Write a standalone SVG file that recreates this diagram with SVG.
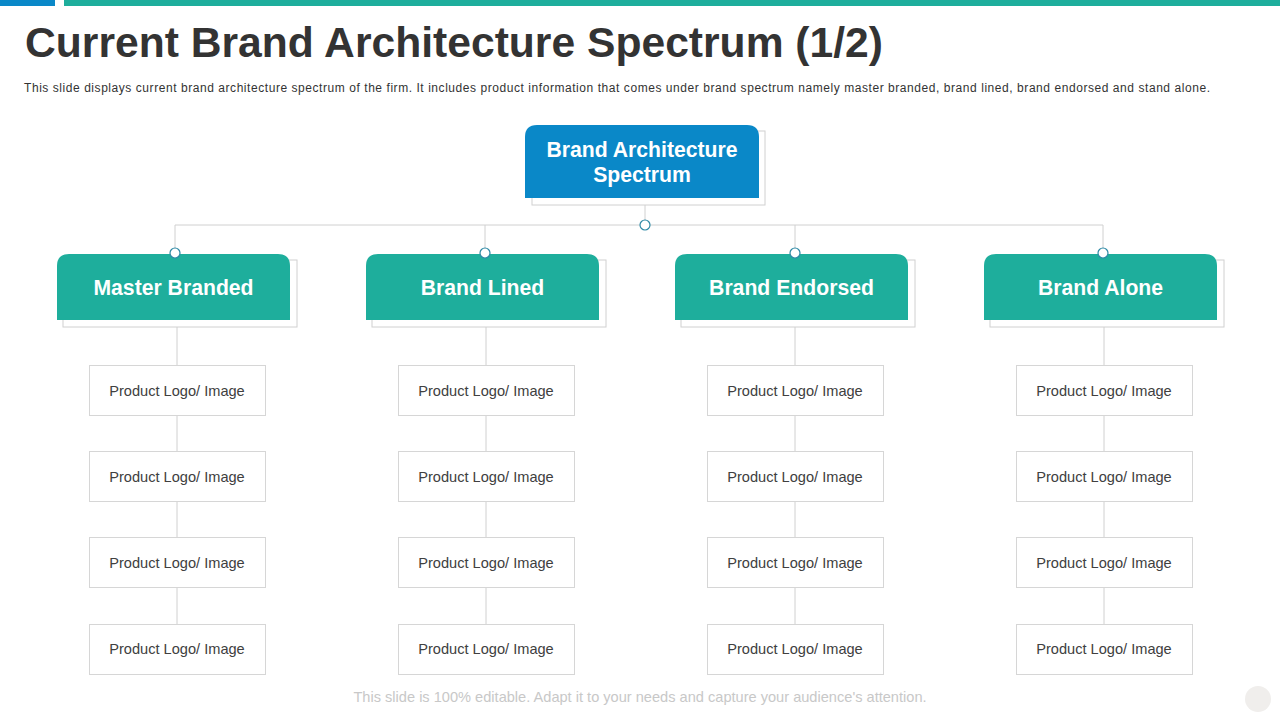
<svg xmlns="http://www.w3.org/2000/svg" width="1280" height="720" viewBox="0 0 1280 720">
<style>
.title{font-family:"Liberation Sans",Arial,sans-serif;font-weight:bold;font-size:42px;fill:#333333}
.sub{font-family:"Liberation Sans",Arial,sans-serif;font-size:12px;fill:#333333}
.foot{font-family:"Liberation Sans",Arial,sans-serif;font-size:14.6px;fill:#c8c8c8}
.head{font-family:"Liberation Sans",Arial,sans-serif;font-weight:bold;font-size:21.2px;fill:#ffffff}
.prod{font-family:"Liberation Sans",Arial,sans-serif;font-size:14.6px;fill:#404040}
.shadow{fill:#ffffff;stroke:#d0d0d0;stroke-width:1}
.pbox{fill:#ffffff;stroke:#d6d6d6;stroke-width:1}
.line{stroke:#d0d0d0;stroke-width:1;fill:none}
.dot{fill:#ffffff;stroke:#2f8aa6;stroke-width:1.2}
.teal{fill:#1eae9c}
</style>
<rect x="0" y="0" width="1280" height="720" fill="#ffffff"/>
<rect x="0" y="0" width="55" height="6" fill="#0a88c8"/>
<rect x="64" y="0" width="1216" height="6" fill="#1eae9c"/>
<text class="title" x="25" y="57" textLength="858" lengthAdjust="spacingAndGlyphs">Current Brand Architecture Spectrum (1/2)</text>
<text class="sub" x="24" y="92" textLength="1186" lengthAdjust="spacing">This slide displays current brand architecture spectrum of the firm. It includes product information that comes under brand spectrum namely master branded, brand lined, brand endorsed and stand alone.</text>

<g id="connectors">
<line class="line" x1="645" y1="205" x2="645" y2="225"/>
<line class="line" x1="175" y1="225" x2="1103" y2="225"/>
<line class="line" x1="175" y1="225" x2="175" y2="253"/>
<line class="line" x1="485" y1="225" x2="485" y2="253"/>
<line class="line" x1="795" y1="225" x2="795" y2="253"/>
<line class="line" x1="1103" y1="225" x2="1103" y2="253"/>
<line class="line" x1="177" y1="327" x2="177" y2="624"/>
<line class="line" x1="486" y1="327" x2="486" y2="624"/>
<line class="line" x1="795" y1="327" x2="795" y2="624"/>
<line class="line" x1="1104" y1="327" x2="1104" y2="624"/>
</g>

<g id="root">
<rect class="shadow" x="532" y="131" width="233" height="74"/>
<path d="M525 198 V137 Q525 125 537 125 H747 Q759 125 759 137 V198 Z" fill="#0a88c8"/>
<text class="head" x="642" y="157" text-anchor="middle">Brand Architecture</text>
<text class="head" x="642" y="182" text-anchor="middle">Spectrum</text>
</g>

<g id="master-branded">
<rect class="shadow" x="63" y="260" width="234" height="67"/>
<path class="teal" d="M57 320 V266 Q57 254 69 254 H278 Q290 254 290 266 V320 Z"/>
<text class="head" x="173.5" y="295" text-anchor="middle">Master Branded</text>
</g>
<g id="brand-lined">
<rect class="shadow" x="372" y="260" width="234" height="67"/>
<path class="teal" d="M366 320 V266 Q366 254 378 254 H587 Q599 254 599 266 V320 Z"/>
<text class="head" x="482.5" y="295" text-anchor="middle">Brand Lined</text>
</g>
<g id="brand-endorsed">
<rect class="shadow" x="681" y="260" width="234" height="67"/>
<path class="teal" d="M675 320 V266 Q675 254 687 254 H896 Q908 254 908 266 V320 Z"/>
<text class="head" x="791.5" y="295" text-anchor="middle">Brand Endorsed</text>
</g>
<g id="brand-alone">
<rect class="shadow" x="990" y="260" width="234" height="67"/>
<path class="teal" d="M984 320 V266 Q984 254 996 254 H1205 Q1217 254 1217 266 V320 Z"/>
<text class="head" x="1100.5" y="295" text-anchor="middle">Brand Alone</text>
</g>

<g id="dots">
<circle class="dot" cx="645" cy="225" r="5"/>
<circle class="dot" cx="175" cy="253" r="5"/>
<circle class="dot" cx="485" cy="253" r="5"/>
<circle class="dot" cx="795" cy="253" r="5"/>
<circle class="dot" cx="1103" cy="253" r="5"/>
</g>

<g id="col1-products">
<rect class="pbox" x="89.5" y="365.5" width="176" height="50"/><text class="prod" x="177" y="396" text-anchor="middle">Product Logo/ Image</text>
<rect class="pbox" x="89.5" y="451.5" width="176" height="50"/><text class="prod" x="177" y="482" text-anchor="middle">Product Logo/ Image</text>
<rect class="pbox" x="89.5" y="537.5" width="176" height="50"/><text class="prod" x="177" y="568" text-anchor="middle">Product Logo/ Image</text>
<rect class="pbox" x="89.5" y="624.5" width="176" height="50"/><text class="prod" x="177" y="654" text-anchor="middle">Product Logo/ Image</text>
</g>
<g id="col2-products">
<rect class="pbox" x="398.5" y="365.5" width="176" height="50"/><text class="prod" x="486" y="396" text-anchor="middle">Product Logo/ Image</text>
<rect class="pbox" x="398.5" y="451.5" width="176" height="50"/><text class="prod" x="486" y="482" text-anchor="middle">Product Logo/ Image</text>
<rect class="pbox" x="398.5" y="537.5" width="176" height="50"/><text class="prod" x="486" y="568" text-anchor="middle">Product Logo/ Image</text>
<rect class="pbox" x="398.5" y="624.5" width="176" height="50"/><text class="prod" x="486" y="654" text-anchor="middle">Product Logo/ Image</text>
</g>
<g id="col3-products">
<rect class="pbox" x="707.5" y="365.5" width="176" height="50"/><text class="prod" x="795" y="396" text-anchor="middle">Product Logo/ Image</text>
<rect class="pbox" x="707.5" y="451.5" width="176" height="50"/><text class="prod" x="795" y="482" text-anchor="middle">Product Logo/ Image</text>
<rect class="pbox" x="707.5" y="537.5" width="176" height="50"/><text class="prod" x="795" y="568" text-anchor="middle">Product Logo/ Image</text>
<rect class="pbox" x="707.5" y="624.5" width="176" height="50"/><text class="prod" x="795" y="654" text-anchor="middle">Product Logo/ Image</text>
</g>
<g id="col4-products">
<rect class="pbox" x="1016.5" y="365.5" width="176" height="50"/><text class="prod" x="1104" y="396" text-anchor="middle">Product Logo/ Image</text>
<rect class="pbox" x="1016.5" y="451.5" width="176" height="50"/><text class="prod" x="1104" y="482" text-anchor="middle">Product Logo/ Image</text>
<rect class="pbox" x="1016.5" y="537.5" width="176" height="50"/><text class="prod" x="1104" y="568" text-anchor="middle">Product Logo/ Image</text>
<rect class="pbox" x="1016.5" y="624.5" width="176" height="50"/><text class="prod" x="1104" y="654" text-anchor="middle">Product Logo/ Image</text>
</g>

<text class="foot" x="640" y="702" text-anchor="middle">This slide is 100% editable. Adapt it to your needs and capture your audience's attention.</text>
<circle cx="1258" cy="699" r="13" fill="#f0eeec"/>
</svg>
